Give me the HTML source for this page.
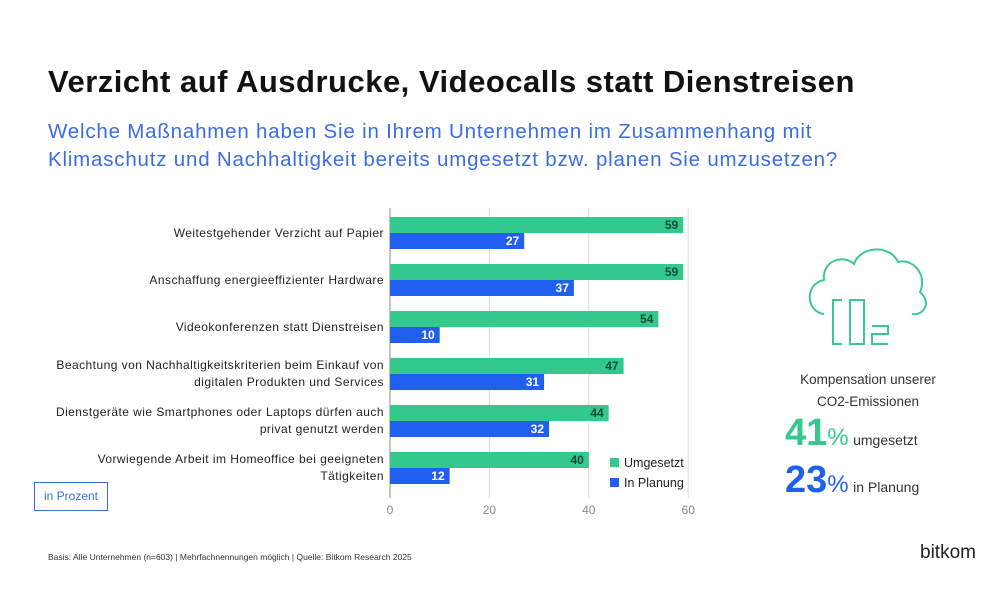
<!DOCTYPE html>
<html><head><meta charset="utf-8"><style>
body{margin:0;width:1000px;height:600px;background:#fff;font-family:"Liberation Sans",sans-serif;position:relative;overflow:hidden}
.abs{position:absolute}
.lbl{position:absolute;right:616px;text-align:right;font-size:12px;color:#222;line-height:17px;letter-spacing:0.45px}
</style></head><body>
<div class="abs" style="left:48px;top:64px;font-size:31px;font-weight:bold;color:#111;letter-spacing:0.5px">Verzicht auf Ausdrucke, Videocalls statt Dienstreisen</div>
<div class="abs" style="left:48px;top:118px;font-size:20.5px;color:#3a6ee0;line-height:28px;letter-spacing:0.8px">Welche Maßnahmen haben Sie in Ihrem Unternehmen im Zusammenhang mit<br>Klimaschutz und Nachhaltigkeit bereits umgesetzt bzw. planen Sie umzusetzen?</div>
<div id="labels"></div>
<svg class="abs" style="left:0;top:0" width="1000" height="600" id="chart"></svg>
<div class="abs" style="left:34px;top:482px;width:72px;height:27px;border:1px solid #3a6ee0;font-size:12px;color:#3a6ee0;line-height:27px;text-align:center">in Prozent</div>
<div class="abs" style="left:610px;top:456px;font-size:12.5px;color:#222"><span style="display:inline-block;width:9px;height:9px;background:#33c98c;margin-right:5px"></span>Umgesetzt</div>
<div class="abs" style="left:610px;top:476px;font-size:12.5px;color:#222"><span style="display:inline-block;width:9px;height:9px;background:#2160ee;margin-right:5px"></span>In Planung</div>
<svg class="abs" style="left:800px;top:244px" width="140" height="110" viewBox="0 0 140 110">
<path d="M24 70 C6 68 4 40 24 36 C22 16 44 10 54 20 C60 2 90 0 98 18 C112 14 128 30 120 48 C132 58 124 72 112 70" fill="none" stroke="#3cc79a" stroke-width="2"/>
<path d="M42 56 h-9 v44 h9 M50 56 h14 v44 h-14 z M72 82 h16 v8 h-16 v10 h16" fill="none" stroke="#3cc79a" stroke-width="2"/>
</svg>
<div class="abs" style="left:778px;top:369px;width:180px;text-align:center;font-size:13.5px;color:#333;line-height:22px">Kompensation unserer<br>CO2-Emissionen</div>
<div class="abs" style="left:785px;top:412px;color:#33c98c"><span style="font-size:38px;font-weight:bold">41</span><span style="font-size:24px">%</span> <span style="font-size:14px;color:#333">umgesetzt</span></div>
<div class="abs" style="left:785px;top:459px;color:#2160ee"><span style="font-size:38px;font-weight:bold">23</span><span style="font-size:24px">%</span> <span style="font-size:14px;color:#333">in Planung</span></div>
<div class="abs" style="left:48px;top:552px;font-size:8.5px;color:#333">Basis: Alle Unternehmen (n=603) | Mehrfachnennungen möglich | Quelle: Bitkom Research 2025</div>
<div class="abs" style="left:920px;top:542px;font-size:19px;color:#222">bitkom</div>
<script>
const categories=[["Weitestgehender Verzicht auf Papier"],["Anschaffung energieeffizienter Hardware"],["Videokonferenzen statt Dienstreisen"],["Beachtung von Nachhaltigkeitskriterien beim Einkauf von","digitalen Produkten und Services"],["Dienstgeräte wie Smartphones oder Laptops dürfen auch","privat genutzt werden"],["Vorwiegende Arbeit im Homeoffice bei geeigneten","Tätigkeiten"]];
const umgesetzt=[59,59,54,47,44,40];
const planung=[27,37,10,31,32,12];
const ticks=[0,20,40,60];
const NS="http://www.w3.org/2000/svg";
const svg=document.getElementById('chart');
const x=v=>390+v*4.97;
const rowY=i=>217+i*47;
function mk(t,a){const e=document.createElementNS(NS,t);for(const k in a)e.setAttribute(k,a[k]);svg.appendChild(e);return e;}
ticks.forEach(t=>{
 const g=mk('line',{x1:x(t),x2:x(t),y1:208,y2:498,stroke:t===0?'#888':'#ddd','stroke-width':1});
 
 
 const l=mk('text',{x:x(t),y:514,'text-anchor':'middle','font-size':12,fill:'#888','font-family':'Liberation Sans'});
 l.textContent=t;
 
 
});
const lab=document.getElementById('labels');
categories.forEach((c,i)=>{
 const y=rowY(i);
 const b1=mk('rect',{x:x(0),y:y,width:x(umgesetzt[i])-x(0),height:16,fill:'#33c98c'});
 
 
 const t1=mk('text',{x:x(umgesetzt[i])-5,y:y+12,'text-anchor':'end','font-size':12,'font-weight':'bold',fill:'#1a4a3a','font-family':'Liberation Sans'});
 t1.textContent=umgesetzt[i];
 
 
 const b2=mk('rect',{x:x(0),y:y+16,width:x(planung[i])-x(0),height:16,fill:'#2160ee'});
 
 
 const t2=mk('text',{x:x(planung[i])-5,y:y+28,'text-anchor':'end','font-size':12,'font-weight':'bold',fill:'#fff','font-family':'Liberation Sans'});
 t2.textContent=planung[i];
 
 
 const d=document.createElement('div');
 d.className='lbl';
 
 
 d.innerHTML=c.join('<br>');
 d.style.top=(y+16-c.length*8.5)+'px';
 lab.appendChild(d);
});
</script>
</body></html>
